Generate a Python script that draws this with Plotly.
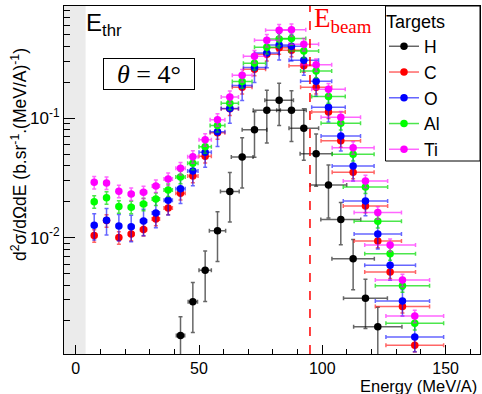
import plotly.graph_objects as go

# Energy bin centres (MeV/A) and horizontal resolution bars
energy = [7.5, 12.5, 17.5, 22.5, 27.5, 32.5, 37.5, 42.5, 47.5, 52.5, 57.5, 62.5, 67.5,
          72.5, 77.5, 82.5, 87.5, 92.5, 97.5, 102.5, 107.5, 112.5, 117.5, 122.5, 127.5,
          132.5, 137.5]
energy_res = [0.5, 0.7, 0.9, 1.1, 1.3, 1.5, 1.7, 1.9, 2.1, 2.5, 3.0, 3.5, 4.0,
              4.5, 5.0, 5.5, 5.8, 6.0, 6.3, 6.8, 8.0, 8.5, 9.0, 9.6, 10.3,
              11.0, 11.7]

# Double differential cross sections, b/sr/(MeV/A)
xs_C = [0.0104, 0.0139, 0.0100, 0.0107, 0.0117, 0.0143, 0.0177, 0.0235, 0.0328, 0.0480,
        0.0757, 0.120, 0.182, 0.258, 0.344, 0.391, 0.372, 0.276, 0.182, 0.113,
        0.0649, 0.0353, 0.0184, 0.00936, 0.00515, 0.00265, 0.00125]
xs_O = [0.0127, 0.0140, 0.0125, 0.0123, 0.0138, 0.0161, 0.0206, 0.0257, 0.0362, 0.0519,
        0.0772, 0.121, 0.188, 0.266, 0.353, 0.411, 0.402, 0.306, 0.204, 0.124,
        0.0711, 0.0398, 0.0203, 0.0107, 0.00586, 0.00294, 0.00147]
xs_Al = [0.0200, 0.0216, 0.0182, 0.0180, 0.0191, 0.0211, 0.0251, 0.0322, 0.0420, 0.0578,
         0.0871, 0.134, 0.203, 0.289, 0.394, 0.462, 0.466, 0.366, 0.249, 0.152,
         0.0908, 0.0499, 0.0266, 0.0137, 0.00733, 0.00395, 0.00191]
xs_Ti = [0.0291, 0.0287, 0.0245, 0.0232, 0.0240, 0.0271, 0.0310, 0.0381, 0.0477, 0.0662,
         0.0973, 0.151, 0.229, 0.331, 0.451, 0.547, 0.552, 0.417, 0.281, 0.175,
         0.102, 0.0567, 0.0298, 0.0162, 0.00867, 0.00441, 0.00220]

# Relative statistical uncertainty of each target (%)
err_pct_C = 12
err_pct_O = 25
err_pct_Al = 12
err_pct_Ti = 12

# Hydrogen target
energy_H = [42.5, 47.5, 52.5, 57.5, 62.5, 67.5, 72.5, 77.5, 82.5, 87.5, 92.5, 97.5,
            102.5, 107.5, 112.5, 117.5, 122.5]
energy_res_H = [1.7, 1.9, 2.5, 3.3, 3.8, 4.4, 5.0, 5.5, 5.8, 6.0, 6.0, 6.5,
                7.4, 8.1, 8.6, 8.9, 9.8]
xs_H = [0.00151, 0.00290, 0.00532, 0.0114, 0.0243, 0.0474, 0.0802, 0.117, 0.142, 0.117,
        0.0824, 0.0505, 0.0276, 0.0142, 0.00665, 0.00310, 0.00179]
xs_H_err = [0.00066, 0.0013, 0.0024, 0.0051, 0.0108, 0.0214, 0.033, 0.055, 0.055, 0.053,
            0.038, 0.0235, 0.013, 0.0055, 0.0030, 0.00137, 0.00082]

E_thr = 4
E_beam = 95

x_range = [-4.75, 163.95]
y_log_range = [-2.9757, -0.0587]

W, H = 482, 394
ML, MR, MT, MB = 64, 2, 6, 40
PW, PH = W - ML - MR, H - MT - MB


def px(x):
    return (x - ML) / PW


def py(y):
    return (H - MB - y) / PH


SANS = "Liberation Sans, Arial, sans-serif"
SERIF = "Liberation Serif, Times New Roman, serif"

series = [
    ("H", energy_H, xs_H, energy_res_H, dict(type="data", array=xs_H_err), "#000000", "rgba(0,0,0,0.6)"),
    ("C", energy, xs_C, energy_res, dict(type="percent", value=err_pct_C), "#ff0000", "rgba(255,0,0,0.6)"),
    ("O", energy, xs_O, energy_res, dict(type="percent", value=err_pct_O), "#0000ff", "rgba(0,0,255,0.6)"),
    ("Al", energy, xs_Al, energy_res, dict(type="percent", value=err_pct_Al), "#00ff00", "rgba(0,220,0,0.7)"),
    ("Ti", energy, xs_Ti, energy_res, dict(type="percent", value=err_pct_Ti), "#ff00ff", "rgba(255,0,255,0.6)"),
]

fig = go.Figure()

for name, x, y, xerr, yerr, col, barcol in series:
    ey = dict(yerr, color=barcol, thickness=1.5, width=2)
    fig.add_trace(go.Scatter(
        x=x, y=y, mode="markers", name=name, showlegend=False,
        marker=dict(color=col, size=7.5, line=dict(width=0)),
        error_x=dict(type="data", array=xerr, color=barcol, thickness=1.5, width=2),
        error_y=ey,
    ))

# legend entries: marker crossed by a line, as for points with error bars
for name, x, y, xerr, yerr, col, barcol in series:
    fig.add_trace(go.Scatter(
        x=[None], y=[None], mode="lines+markers", name=name,
        marker=dict(color=col, size=7.5), line=dict(color=barcol, width=1.5),
    ))

fig.add_shape(type="rect", xref="x", yref="paper", x0=x_range[0], x1=E_thr, y0=0, y1=1,
              fillcolor="#ebebeb", line=dict(width=0), layer="below")
fig.add_shape(type="line", xref="x", yref="paper", x0=E_beam, x1=E_beam, y0=0, y1=1,
              line=dict(color="#ff0000", width=1.5, dash="dash"))
# legend frame, wider than the entries themselves
fig.add_shape(type="rect", xref="paper", yref="paper", x0=px(385.5), x1=1, y0=py(161), y1=1,
              fillcolor="white", line=dict(color="black", width=1), layer="above")

fig.add_annotation(text="E<sub>thr</sub>", xref="paper", yref="paper",
                   x=px(84), y=py(7), xanchor="left", yanchor="top", showarrow=False,
                   font=dict(family=SANS, size=24, color="black"))
fig.add_annotation(text="E<sub>beam</sub>", xref="paper", yref="paper",
                   x=px(312), y=py(1), xanchor="left", yanchor="top", showarrow=False,
                   font=dict(family=SERIF, size=27, color="#ff0000"))
fig.add_annotation(text="<i>θ</i> = 4°", xref="paper", yref="paper",
                   x=px(149), y=py(73.5), xanchor="center", yanchor="middle", showarrow=False,
                   width=88, height=28, bordercolor="black", borderwidth=1, borderpad=1,
                   bgcolor="white", font=dict(family=SERIF, size=26, color="black"))
fig.add_annotation(text="d<sup>2</sup>σ/dΩdE (b.sr<sup>-1</sup>.(MeV/A)<sup>-1</sup>)",
                   xref="paper", yref="paper", x=px(19), y=py(155), textangle=-90,
                   xanchor="center", yanchor="middle", showarrow=False,
                   font=dict(family=SANS, size=17.5, color="black"))
fig.add_annotation(text="Energy (MeV/A)", xref="paper", yref="paper",
                   x=px(479), y=py(385.5), xanchor="right", yanchor="middle", showarrow=False,
                   font=dict(family=SANS, size=16.5, color="black"))

fig.update_layout(
    width=W, height=H,
    margin=dict(l=ML, r=MR, t=MT, b=MB, pad=0),
    paper_bgcolor="white", plot_bgcolor="white",
    font=dict(family=SANS, size=17, color="black"),
    legend=dict(
        title=dict(text="Targets", font=dict(family=SANS, size=18)),
        x=px(384), xanchor="left", y=py(5), yanchor="top",
        borderwidth=0, bgcolor="rgba(0,0,0,0)",
        font=dict(family=SANS, size=17.5), traceorder="normal",
        itemwidth=30, tracegroupgap=0,
    ),
    xaxis=dict(
        range=x_range, showgrid=False, zeroline=False,
        showline=True, linecolor="black", linewidth=1, mirror=True,
        ticks="inside", ticklen=9, tickcolor="black",
        tickvals=[0, 50, 100, 150], tickfont=dict(size=16),
        minor=dict(tickvals=[10, 20, 30, 40, 60, 70, 80, 90, 110, 120, 130, 140, 160],
                   ticks="inside", ticklen=5, tickcolor="black"),
    ),
    yaxis=dict(
        type="log", range=y_log_range, showgrid=False, zeroline=False,
        showline=True, linecolor="black", linewidth=1, mirror=True,
        ticks="inside", ticklen=11, tickcolor="black",
        tickvals=[0.01, 0.1], ticktext=["10<sup>-2</sup>", "10<sup>-1</sup>"],
        tickfont=dict(size=17),
        minor=dict(tickvals=[0.002, 0.003, 0.004, 0.005, 0.006, 0.007, 0.008, 0.009,
                             0.02, 0.03, 0.04, 0.05, 0.06, 0.07, 0.08, 0.09,
                             0.2, 0.3, 0.4, 0.5, 0.6, 0.7, 0.8],
                   ticks="inside", ticklen=6, tickcolor="black"),
    ),
)

fig.write_html("out.html")
